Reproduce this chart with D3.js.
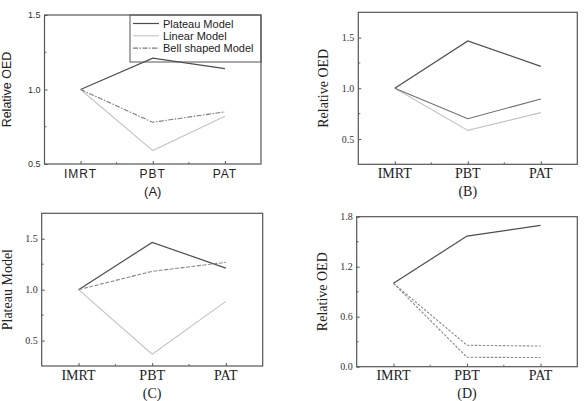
<!DOCTYPE html>
<html><head><meta charset="utf-8">
<script src="https://cdn.jsdelivr.net/npm/d3@7"></script>
<style>body{margin:0;background:#fff}svg{display:block}</style>
</head><body>
<script>
// ---- data ----
const categories = ["IMRT", "PBT", "PAT"];
const seriesNames = ["Plateau Model", "Linear Model", "Bell shaped Model"];
const plateauA = [1.0, 1.21, 1.14];
const linearA  = [1.0, 0.59, 0.82];
const bellA    = [1.0, 0.78, 0.85];
const plateauB = [1.0, 1.467, 1.217];
const linearB  = [1.0, 0.585, 0.76];
const bellB    = [1.0, 0.70, 0.895];
const plateauC = [1.0, 1.464, 1.212];
const linearC  = [1.0, 0.366, 0.885];
const bellC    = [1.0, 1.18, 1.268];
const plateauD = [1.0, 1.568, 1.696];
const linearD  = [1.0, 0.113, 0.11];
const bellD    = [1.0, 0.257, 0.248];
const yTicksA = [0.5, 1.0, 1.5];
const yTicksB = [0.5, 1.0, 1.5];
const yTicksC = [0.5, 1.0, 1.5];
const yTicksD = [0.0, 0.6, 1.2, 1.8];
const panelLabels = ["(A)", "(B)", "(C)", "(D)"];
const yTitles = ["Relative OED", "Relative OED", "Plateau Model", "Relative OED"];

const W = 585, H = 401;
const svg = d3.select("body").append("svg").attr("width", W).attr("height", H);

const styles = {
  plateau: {stroke: "#4d4d4d", dash: null, width: 1.2},
  linear:  {stroke: "#c4c4c4", dash: null, width: 1.1},
  bell:    {stroke: "#7a7a7a", dash: "5,1.5,1.5,1.5", width: 1.1}
};
const SANS = "Liberation Sans, Arial, sans-serif";
const SERIF = "Liberation Serif, Times New Roman, serif";

const panels = [
  {box: [44.5, 15, 261, 164], dom: [0.5, 1.5], ticks: yTicksA, minor: [0.75, 1.25], font: SANS,
   series: [plateauA, linearA, bellA], lab: panelLabels[0], title: yTitles[0], legend: true,
   tickFs: 9, catFs: 12, catLs: 1, titleFs: 12.5, labFs: 13, titleBase: 11, catBase: 177.5, labBase: 196,
   st: [styles.plateau, styles.linear, styles.bell]},
  {box: [358.3, 12.3, 577.3, 164.3], dom: [0.25, 1.75], ticks: yTicksB, minor: [0.75, 1.25], font: SERIF,
   series: [plateauB, linearB, bellB], lab: panelLabels[1], title: yTitles[1], legend: false,
   tickFs: 10, catFs: 14, catLs: 0, titleFs: 14, labFs: 14, titleBase: 327.5, catBase: 178, labBase: 196,
   st: [styles.plateau, styles.linear, {stroke: "#6e6e6e", dash: null, width: 1.1}]},
  {box: [41.7, 213.3, 262.7, 366], dom: [0.25, 1.75], ticks: yTicksC, minor: [0.75, 1.25], font: SERIF,
   series: [plateauC, linearC, bellC], lab: panelLabels[2], title: yTitles[2], legend: false,
   tickFs: 10, catFs: 14, catLs: 0, titleFs: 14, labFs: 14, titleBase: 12, catBase: 380, labBase: 397.5,
   st: [styles.plateau, styles.linear, {stroke: "#888", dash: "4,1.5", width: 1.1}]},
  {box: [356.7, 216.7, 577.3, 366.7], dom: [0, 1.8], ticks: yTicksD, minor: [0.3, 0.9, 1.5], font: SERIF,
   series: [plateauD, linearD, bellD], lab: panelLabels[3], title: yTitles[3], legend: false,
   tickFs: 10, catFs: 14, catLs: 0, titleFs: 14, labFs: 14, titleBase: 327, catBase: 380, labBase: 397.5,
   st: [styles.plateau, {stroke: "#8a8a8a", dash: "2.5,1.5", width: 1.1}, {stroke: "#8a8a8a", dash: "2.5,1.5", width: 1.1}]}
];

panels.forEach(p => {
  const [x0, y0, x1, y1] = p.box;
  const g = svg.append("g").style("font-family", p.font);
  const x = d3.scalePoint().domain(categories).range([x0, x1]).padding(0.5);
  const y = d3.scaleLinear().domain(p.dom).range([y1, y0]);

  // series lines
  const line = d3.line().x((d, i) => x(categories[i])).y(d => y(d));
  p.series.forEach((s, i) => {
    g.append("path").datum(s).attr("d", line).attr("fill", "none")
      .attr("stroke", p.st[i].stroke).attr("stroke-width", p.st[i].width)
      .attr("stroke-dasharray", p.st[i].dash);
  });

  // frame
  g.append("rect").attr("x", x0).attr("y", y0).attr("width", x1 - x0).attr("height", y1 - y0)
    .attr("fill", "none").attr("stroke", "#555").attr("stroke-width", 1.2);

  // y axis (ticks inward)
  const ya = g.append("g").attr("transform", `translate(${x0},0)`)
    .call(d3.axisLeft(y).tickValues(p.ticks).tickFormat(d3.format(".1f")).tickSize(-3).tickPadding(4));
  ya.select(".domain").remove();
  ya.selectAll("line").attr("stroke", "#555");
  ya.selectAll("text").attr("font-size", p.tickFs).attr("fill", "#333").style("font-family", p.font);
  g.selectAll(null).data(p.minor).enter().append("line")
    .attr("x1", x0).attr("x2", x0 + 2).attr("y1", d => y(d)).attr("y2", d => y(d)).attr("stroke", "#666");

  // x axis (ticks inward)
  const xa = g.append("g").attr("transform", `translate(0,${y1})`)
    .call(d3.axisBottom(x).tickSize(-3));
  xa.select(".domain").remove();
  xa.selectAll("line").attr("stroke", "#555");
  xa.selectAll("text").remove();
  g.selectAll(null).data(categories).enter().append("text")
    .attr("x", d => x(d)).attr("y", p.catBase).attr("text-anchor", "middle")
    .attr("font-size", p.catFs).attr("letter-spacing", p.catLs).attr("fill", "#222").text(d => d);
  const mids = [0, 1].map(i => (x(categories[i]) + x(categories[i + 1])) / 2);
  g.selectAll(null).data(mids).enter().append("line")
    .attr("x1", d => d).attr("x2", d => d).attr("y1", y1).attr("y2", y1 - 2).attr("stroke", "#666");

  // y title
  g.append("text").attr("transform", `translate(${p.titleBase},${(y0 + y1) / 2}) rotate(-90)`)
    .attr("text-anchor", "middle").attr("font-size", p.titleFs).attr("fill", "#222").text(p.title);

  // panel label
  g.append("text").attr("x", x(categories[1])).attr("y", p.labBase).attr("text-anchor", "middle")
    .attr("font-size", p.labFs).attr("fill", "#222").text(p.lab);

  // legend
  if (p.legend) {
    const lx0 = 130, ly0 = y0, lx1 = x1, ly1 = 62;
    g.append("rect").attr("x", lx0).attr("y", ly0).attr("width", lx1 - lx0).attr("height", ly1 - ly0)
      .attr("fill", "none").attr("stroke", "#555").attr("stroke-width", 1);
    seriesNames.forEach((n, i) => {
      const yy = 23.5 + i * 12.3;
      g.append("line").attr("x1", 133).attr("x2", 159).attr("y1", yy).attr("y2", yy)
        .attr("stroke", p.st[i].stroke).attr("stroke-width", p.st[i].width).attr("stroke-dasharray", p.st[i].dash);
      g.append("text").attr("x", 163).attr("y", yy + 4).attr("font-size", 11).attr("fill", "#222").text(n);
    });
  }
});
</script>
</body></html>
